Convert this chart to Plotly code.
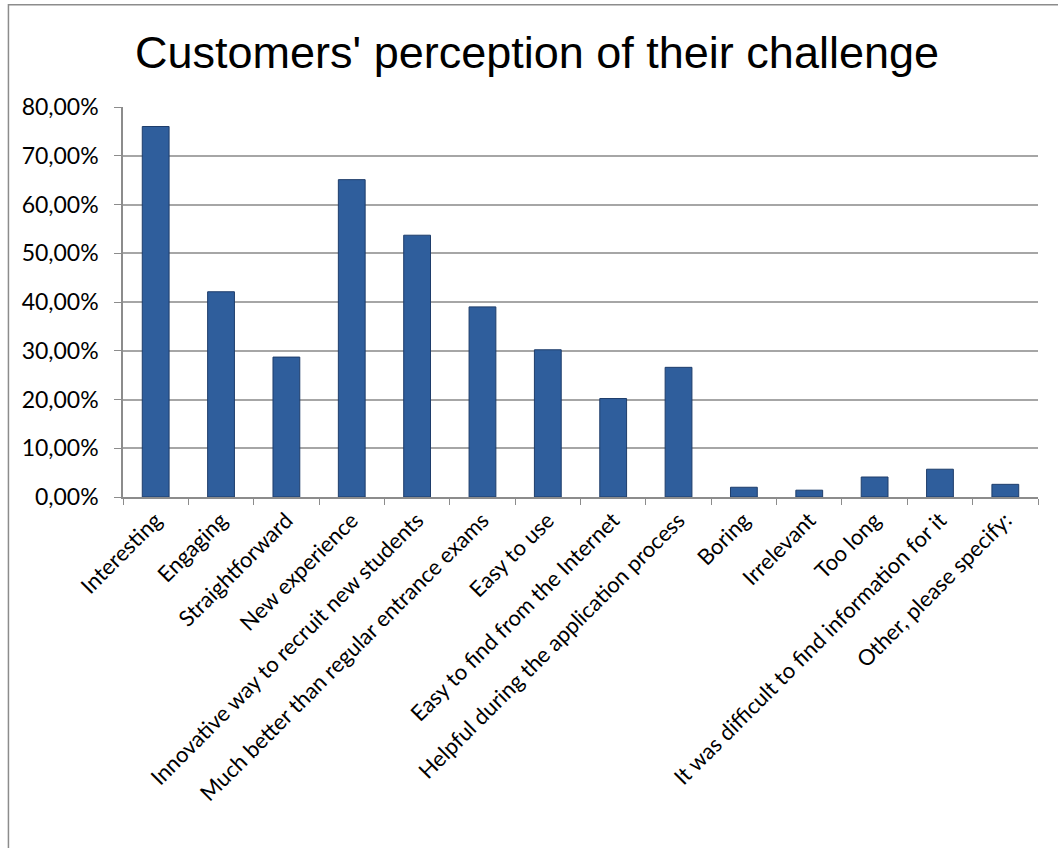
import plotly.graph_objects as go

categories = [
    "Interesting", "Engaging", "Straightforward", "New experience",
    "Innovative way to recruit new students",
    "Much better than regular entrance exams", "Easy to use",
    "Easy to find from the Internet", "Helpful during the application process",
    "Boring", "Irrelevant", "Too long",
    "It was difficult to find information for it", "Other, please specify:",
]
values = [0.760, 0.421, 0.287, 0.651, 0.537, 0.390, 0.302, 0.202, 0.266,
          0.020, 0.014, 0.041, 0.057, 0.026]
y_ticks = [0, 0.1, 0.2, 0.3, 0.4, 0.5, 0.6, 0.7, 0.8]
title_text = "Customers' perception of their challenge"

fig = go.Figure(go.Bar(
    x=categories, y=values,
    marker=dict(color="#2F5E9C", line=dict(color="#1E3D6B", width=1)),
))

fig.update_layout(
    width=1058, height=848,
    paper_bgcolor="white", plot_bgcolor="white",
    margin=dict(l=123, r=20, t=107, b=351, autoexpand=False),
    separators=", ",
    bargap=0.59,
    showlegend=False,
    title=dict(text=title_text, x=537 / 1058, xanchor="center", y=1 - 52 / 848, yanchor="middle",
               xref="container", font=dict(family="Liberation Sans, Arial", size=45, color="black")),
    font=dict(family="Lato, Open Sans", size=21, color="black"),
)
fig.update_xaxes(
    type="category", tickangle=-45, showline=True, linecolor="#8C8C8C", linewidth=1.5,
    ticks="outside", tickson="boundaries", ticklen=6, tickcolor="#8C8C8C",
    tickfont=dict(family="Lato, Open Sans", size=22), showgrid=False, automargin=False,
)
fig.update_yaxes(
    range=[0, 0.8], tickvals=y_ticks, tickformat=".2%",
    showline=True, linecolor="#8C8C8C", linewidth=1.5,
    ticks="outside", ticklen=7, tickcolor="#8C8C8C", ticklabelstandoff=11,
    showgrid=True, gridcolor="#A6A6A6", gridwidth=1.5,
    tickfont=dict(family="Lato, Open Sans", size=23), zeroline=False, automargin=False,
)
fig.add_shape(type="rect", xref="paper", yref="paper",
              x0=-0.1252, x1=1.04, y0=-0.95, y1=1.262,
              line=dict(color="#8C8C8C", width=1.5), fillcolor="rgba(0,0,0,0)", layer="below")

fig.write_html("out.html", config={"displayModeBar": False},
               post_script="document.body.style.margin='0px';")
